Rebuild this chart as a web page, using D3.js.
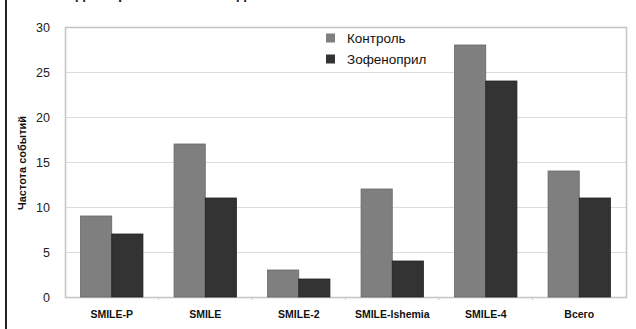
<!DOCTYPE html>
<html><head><meta charset="utf-8">
<script src="https://cdn.jsdelivr.net/npm/d3@7"></script>
<style>body{margin:0;background:#fff}svg{display:block}</style>
</head><body>
<script>
const categories = ["SMILE-P","SMILE","SMILE-2","SMILE-Ishemia","SMILE-4","Всего"];
const seriesNames = ["Контроль","Зофеноприл"];
const control = [9,17,3,12,28,14];
const zofenopril = [7,11,2,4,24,11];
const yTicks = [0,5,10,15,20,25,30];
const colors = ["#7f7f7f","#333333"];

const W=636,H=329;
const svg=d3.select("body").append("svg").attr("width",W).attr("height",H);
const m={l:65,r:626,t:27,b:297};
const x=d3.scaleBand().domain(categories).range([m.l,m.r]).paddingInner(0.333).paddingOuter(0.1665);
const x1=d3.scaleBand().domain(seriesNames).range([0,x.bandwidth()]);
const y=d3.scaleLinear().domain([0,30]).range([m.b,m.t]);

// left border
svg.append("rect").attr("x",5).attr("y",0).attr("width",2).attr("height",H).attr("fill","#222");
// partial title (cut off at top edge as in reference)
svg.append("text").attr("x",40).attr("y",-1).attr("font-family","Liberation Sans, Arial").attr("font-weight","bold").attr("font-size",15).attr("fill","#222").text("Исходы терапии в 5 исследованиях");

// grid
svg.append("g").selectAll("line").data(yTicks.filter(d=>d>0&&d<30)).join("line")
 .attr("x1",m.l).attr("x2",m.r).attr("y1",d=>y(d)+0.5).attr("y2",d=>y(d)+0.5).attr("stroke","#dcdcdc");
// frame
svg.append("rect").attr("x",m.l+0.5).attr("y",m.t+0.5).attr("width",m.r-m.l).attr("height",m.b-m.t).attr("fill","none").attr("stroke","#c4c4c4").attr("stroke-width",1.5);

// bars
const data=categories.map((c,i)=>({c,vals:[control[i],zofenopril[i]]}));
const g=svg.append("g").selectAll("g").data(data).join("g").attr("transform",d=>`translate(${x(d.c)},0)`);
g.selectAll("rect").data(d=>d.vals.map((v,j)=>({v,s:seriesNames[j],j}))).join("rect")
 .attr("x",d=>x1(d.s)).attr("width",x1.bandwidth()).attr("y",d=>y(d.v)).attr("height",d=>y(0)-y(d.v))
 .attr("fill",d=>colors[d.j]).attr("stroke",d=>d.j?"#222":"#666").attr("stroke-width",0.8);

// x axis
const xa=d3.axisBottom(x).tickSize(0).tickPadding(14);
const xg=svg.append("g").attr("transform",`translate(0,${m.b})`).call(xa);
xg.select(".domain").remove();
xg.selectAll("text").attr("font-family","Liberation Sans, Arial").attr("font-weight","bold").attr("font-size",10.5).attr("fill","#111");
svg.append("g").selectAll("line").data(d3.range(1,categories.length)).join("line")
 .attr("x1",d=>m.l+d*(m.r-m.l)/categories.length).attr("x2",d=>m.l+d*(m.r-m.l)/categories.length)
 .attr("y1",m.b).attr("y2",m.b+3).attr("stroke","#ccc");

// y axis
const ya=d3.axisLeft(y).tickValues(yTicks).tickSize(0).tickPadding(15);
const yg=svg.append("g").attr("transform",`translate(${m.l},0)`).call(ya);
yg.select(".domain").remove();
yg.selectAll("text").attr("font-family","Liberation Sans, Arial").attr("font-size",12.5).attr("fill","#222");

svg.append("text").attr("transform",`translate(26,${163}) rotate(-90)`).attr("text-anchor","middle")
 .attr("font-family","Liberation Sans, Arial").attr("font-weight","bold").attr("font-size",11).attr("fill","#111").text("Частота событий");

// legend
const lg=svg.append("g").selectAll("g").data(seriesNames).join("g").attr("transform",(d,i)=>`translate(326,${38+i*21})`);
lg.append("rect").attr("x",0).attr("y",-4.5).attr("width",9).attr("height",9).attr("fill",(d,i)=>colors[i]);
lg.append("text").attr("x",21).attr("y",0).attr("dy","0.35em").attr("font-family","Liberation Sans, Arial").attr("font-size",13.5).attr("fill","#111").text(d=>d);
</script>
</body></html>
